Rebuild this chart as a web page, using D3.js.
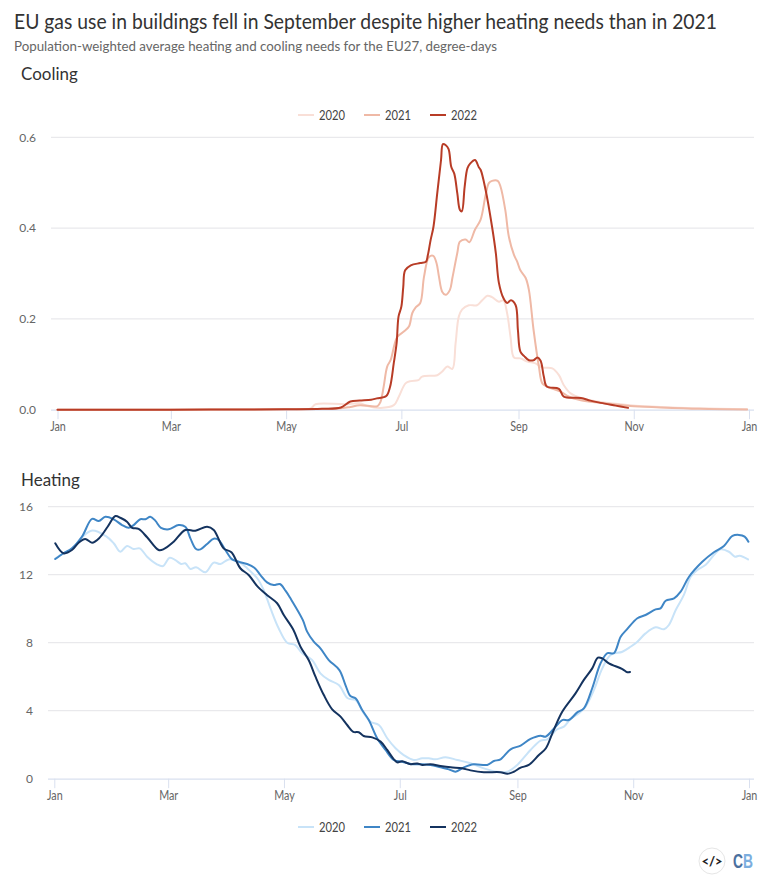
<!DOCTYPE html>
<html>
<head>
<meta charset="utf-8">
<script src="https://cdnjs.cloudflare.com/ajax/libs/d3/7.8.5/d3.min.js"></script>
<style>
body { margin: 0; background: #fff; }
svg { display: block; font-family: Lato, sans-serif; }
</style>
</head>
<body>
<svg id="graphique" width="780" height="891"></svg>
<script>
// values, day of year (leap year) and degree-days
var years = ["2020", "2021", "2022"];
var monthDays = [0, 60, 121, 182, 244, 305, 366];
var monthLabels = ["Jan", "Mar", "May", "Jul", "Sep", "Nov", "Jan"];
var coolingTicks = [0, 0.2, 0.4, 0.6];
var heatingTicks = [0, 4, 8, 12, 16];

var cooling2020Days = [0, 60, 120, 134, 136.6, 152, 160, 164, 171, 178, 180.7, 184.2, 187, 191, 193, 201, 203.6, 206.3, 209, 210.7, 212.4, 214.2, 217.7, 222, 224.8, 227.5, 230, 233.6, 236, 238, 239.8, 241.6, 245, 248.7, 253, 256.6, 261.9, 265.4, 268, 271.6, 277, 287.5, 303, 319, 340, 365];
var cooling2020Values = [0, 0, 0.001, 0.003, 0.012, 0.012, 0.014, 0.008, 0.004, 0.01, 0.029, 0.058, 0.063, 0.065, 0.073, 0.076, 0.084, 0.095, 0.09, 0.146, 0.205, 0.221, 0.23, 0.23, 0.241, 0.251, 0.248, 0.238, 0.241, 0.212, 0.16, 0.115, 0.113, 0.106, 0.102, 0.093, 0.091, 0.076, 0.054, 0.036, 0.026, 0.017, 0.01, 0.006, 0.003, 0.001];

var cooling2021Days = [0, 60, 120, 150, 155, 160, 169.4, 171, 172.6, 174.5, 176.3, 179.8, 183.3, 186, 187.8, 189.5, 192, 194, 196.6, 198.9, 200.6, 201.9, 203.6, 205.4, 207.7, 209, 211.6, 213, 216, 218, 221, 223.9, 226.6, 228.3, 230, 233, 234.5, 237, 238.9, 241.6, 243.3, 245, 247.8, 249.5, 252, 254.8, 256.6, 259, 266.3, 270.5, 277, 287.5, 303, 319, 340, 365];
var cooling2021Values = [0, 0, 0.001, 0.003, 0.006, 0.01, 0.008, 0.018, 0.05, 0.095, 0.109, 0.16, 0.172, 0.183, 0.213, 0.225, 0.235, 0.293, 0.336, 0.339, 0.323, 0.293, 0.26, 0.253, 0.264, 0.29, 0.345, 0.37, 0.375, 0.369, 0.397, 0.418, 0.473, 0.499, 0.504, 0.504, 0.491, 0.44, 0.381, 0.341, 0.326, 0.307, 0.29, 0.264, 0.175, 0.095, 0.058, 0.051, 0.04, 0.029, 0.021, 0.015, 0.008, 0.005, 0.002, 0.0005];

var cooling2022Days = [0, 60, 120, 140, 150, 155, 160, 166, 169, 174, 176, 178, 179.5, 180.5, 182, 183, 184, 187, 192, 195, 196, 197.5, 199, 201, 203, 204, 205.4, 207, 208.4, 210, 211.6, 213, 214, 215.5, 217, 218.6, 221, 223, 224, 226.6, 230, 232, 233.6, 236, 238, 240, 242.5, 243.7, 245, 247, 249.5, 252, 254, 255.7, 257.4, 259, 265.4, 268, 277, 282, 287.5, 295.4, 302];
var cooling2022Values = [0, 0, 0.001, 0.002, 0.005, 0.018, 0.02, 0.022, 0.025, 0.03, 0.05, 0.103, 0.147, 0.205, 0.227, 0.27, 0.307, 0.318, 0.323, 0.326, 0.34, 0.374, 0.403, 0.477, 0.55, 0.585, 0.583, 0.574, 0.535, 0.52, 0.477, 0.44, 0.437, 0.491, 0.532, 0.543, 0.55, 0.534, 0.528, 0.484, 0.403, 0.345, 0.28, 0.246, 0.235, 0.241, 0.23, 0.175, 0.128, 0.118, 0.109, 0.109, 0.115, 0.108, 0.073, 0.051, 0.046, 0.029, 0.026, 0.02, 0.015, 0.009, 0.004];

var heating2020Days = [0.5, 4.9, 9.3, 14.6, 20, 27, 31.3, 34.8, 38.3, 41.8, 45, 48.9, 54.1, 57.3, 60.8, 63.8, 66.8, 69, 71.7, 74.7, 79.6, 84, 87.5, 91.9, 97.2, 101.6, 106.9, 110.3, 113.9, 118.2, 122.7, 127, 130.6, 135.8, 140.2, 144.6, 149.9, 154.6, 158.7, 163, 166.6, 171, 175.4, 179.8, 184.1, 189.4, 193.8, 197.3, 200.8, 206.1, 212.3, 219.3, 226.3, 233.3, 238.7, 243.9, 250.9, 256.2, 259.7, 265, 268.5, 272, 276.4, 279.9, 284.3, 288.7, 293.1, 299.3, 303.6, 307.2, 311.5, 316.8, 321.2, 323.8, 327.4, 331.7, 335.3, 338.8, 343.2, 347.5, 351, 355.4, 358.6, 361, 365.5];
var heating2020Values = [12.95, 13.25, 13.5, 14.2, 14.6, 14.28, 13.85, 13.35, 13.69, 13.51, 13.55, 13.06, 12.61, 12.51, 13, 12.86, 12.63, 12.67, 12.34, 12.44, 12.14, 12.71, 12.63, 12.9, 12.76, 12.38, 11.79, 11.1, 10.02, 8.85, 8, 7.86, 7.38, 6.98, 6.2, 5.81, 5.51, 4.73, 4.63, 3.85, 3.35, 3.16, 2.38, 1.79, 1.39, 1.1, 1.2, 1.2, 1.14, 1.26, 1.1, 0.91, 0.61, 0.41, 0.41, 0.81, 1.69, 2.24, 2.32, 2.91, 3.06, 3.51, 3.85, 4.24, 5.22, 6.49, 7.28, 7.47, 7.76, 8.06, 8.55, 8.91, 8.79, 9.04, 9.92, 10.81, 11.88, 12.28, 12.58, 13.16, 13.49, 13.35, 13.06, 13.12, 12.9];

var heating2021Days = [0.5, 4.9, 9.3, 14.6, 19.9, 23.4, 26.9, 31.3, 35.7, 39.2, 41.8, 45.3, 48, 50.6, 53.2, 56.2, 60.3, 65.5, 69, 71.7, 74.7, 77, 80.5, 84, 86.6, 90.1, 93.7, 97.2, 101.6, 105.4, 108.6, 112.1, 115.6, 118.8, 121.8, 124.4, 130.9, 133.2, 136.7, 140.2, 144.6, 150.2, 153.4, 156, 158.7, 162.2, 165.7, 170.1, 174.5, 178.9, 183.3, 188.6, 192.9, 198.2, 203.5, 207.9, 211.4, 215.8, 221, 228.1, 231.6, 235.1, 240.4, 245.7, 250.9, 256.2, 258.8, 264.1, 267.6, 271.1, 275.5, 279, 283.4, 287.8, 291.4, 294.8, 298.4, 301.9, 307.2, 311.5, 316.8, 319.4, 322.1, 326.5, 330, 334.4, 341.4, 347.5, 352.8, 357.3, 360.7, 363.7, 365.7];
var heating2021Values = [12.92, 13.26, 13.55, 14.24, 15.28, 15.16, 15.41, 15.26, 14.92, 14.76, 14.92, 15.26, 15.26, 15.41, 15.18, 14.76, 14.67, 14.92, 14.82, 14.14, 13.51, 13.49, 13.81, 14.12, 14.04, 13.45, 12.9, 12.76, 12.63, 12.41, 11.98, 11.55, 11.39, 11.45, 11.06, 10.61, 9.34, 8.65, 8.06, 7.67, 6.98, 6.39, 5.51, 4.86, 4.73, 4.04, 3.45, 2.38, 1.69, 1.1, 1, 0.85, 0.85, 0.81, 0.67, 0.55, 0.41, 0.67, 0.85, 0.81, 1.04, 1.14, 1.73, 1.95, 2.34, 2.53, 2.47, 3.06, 3.45, 3.45, 3.9, 4.14, 5.32, 6.79, 7.38, 7.38, 8.35, 8.81, 9.44, 9.63, 9.96, 10.02, 10.47, 10.61, 11, 11.88, 12.76, 13.32, 13.69, 14.28, 14.34, 14.24, 13.94];

var heating2022Days = [0.5, 4.9, 9.3, 12.8, 16.3, 19.9, 23.9, 28.1, 32.2, 34.8, 38.3, 41, 44.4, 48.9, 55, 57.6, 62.9, 69, 74.3, 80.5, 84, 89.2, 93.3, 98, 102.4, 106.9, 112, 117.4, 120.9, 126, 129.7, 134, 137.6, 142, 146.4, 150.8, 154.3, 157.5, 160.4, 163, 167.5, 171.9, 175.4, 178.9, 180.7, 183.3, 187.7, 191.2, 193.8, 198.2, 203.5, 208.8, 214.9, 219.3, 226.3, 235, 238.7, 242.1, 245.7, 250, 255.3, 259, 262.4, 267.6, 274.6, 279, 283.4, 286.4, 288.7, 292.2, 299.3, 301.9, 303.3];
var heating2022Values = [13.85, 13.26, 13.45, 13.88, 14.1, 13.88, 14.18, 14.82, 15.45, 15.35, 15.12, 14.76, 14.69, 14.2, 13.45, 13.5, 13.94, 14.63, 14.59, 14.82, 14.63, 13.55, 13.32, 12.38, 11.98, 11.33, 10.81, 10.32, 9.63, 8.75, 7.76, 6.98, 6, 4.92, 4.08, 3.65, 3.16, 2.76, 2.73, 2.51, 2.43, 2.18, 1.69, 1.14, 0.96, 1.02, 0.85, 0.9, 0.81, 0.85, 0.75, 0.67, 0.61, 0.49, 0.38, 0.38, 0.29, 0.41, 0.65, 0.81, 1.39, 1.79, 2.67, 3.94, 5.02, 5.81, 6.49, 7.12, 7.08, 6.79, 6.45, 6.26, 6.28];

var coolingColors = ["#f9dfd7", "#efb9a6", "#b83c26"];
var heatingColors = ["#c8e3f8", "#3f86c6", "#14335f"];

var graphique = d3.select("#graphique");

function zip(days, values){
	return days.map(function(d, i){
		return {day: d, value: values[i]};
	});
}

// the original font is narrower than Lato, squeeze to its width
function squeeze(sel, factor){
	sel.each(function(){
		this.setAttribute("textLength", this.getComputedTextLength() * factor);
		this.setAttribute("lengthAdjust", "spacingAndGlyphs");
	});
}

function drawPanel(panel){
	var xScale = d3.scaleLinear().domain([0, 366]).range(panel.xRange);
	var yScale = d3.scaleLinear().domain(panel.yDomain).range(panel.yRange);

	//// grid + y labels
	var yAxis = d3.axisLeft(yScale)
		.tickValues(panel.yTicks)
		.tickSize(0)
		.tickPadding(0)
		.tickFormat(d3.format(panel.yFormat));
	var gy = graphique.append("g").attr("transform", "translate(" + panel.labelRight + ",0)").call(yAxis);
	gy.select(".domain").remove();
	gy.selectAll("text")
		.attr("font-family", "Lato, sans-serif")
		.attr("font-size", 12)
		.attr("fill", "#666");

	panel.yTicks.forEach(function(t){
		if(t == 0) return;
		graphique.append("line")
			.attr("x1", panel.gridStart).attr("x2", 754)
			.attr("y1", yScale(t)).attr("y2", yScale(t))
			.attr("stroke", "#e9e9ec")
			.attr("stroke-width", 1.2);
	});

	//// x axis
	var xAxis = d3.axisBottom(xScale)
		.tickValues(monthDays)
		.tickFormat(function(d, i){ return monthLabels[i]; })
		.tickSize(9.5)
		.tickPadding(3);
	var gx = graphique.append("g")
		.attr("transform", "translate(0," + yScale(0) + ")")
		.call(xAxis);
	gx.select(".domain")
		.attr("d", "M" + panel.gridStart + ",0.5H754")
		.attr("stroke", "#d9e0ef")
		.attr("stroke-width", 1.2);
	gx.selectAll("line").attr("stroke", "#d9e0ef");
	gx.selectAll("text")
		.attr("font-family", "Lato, sans-serif")
		.attr("font-size", 12.5)
		.attr("fill", "#666")
		.call(squeeze, 0.86);

	//// courbes
	var line = d3.line()
		.x(function(d){ return xScale(d.day); })
		.y(function(d){ return yScale(d.value); })
		.curve(d3.curveCatmullRom.alpha(0.5));

	panel.series.forEach(function(s, i){
		graphique.append("path")
			.attr("d", line(s))
			.attr("fill", "none")
			.attr("stroke", panel.colors[i])
			.attr("stroke-width", 2)
			.attr("stroke-linejoin", "round")
			.attr("stroke-linecap", "round");
	});

	//// legende
	var lineStart = [298, 364, 430];
	years.forEach(function(y, i){
		graphique.append("line")
			.attr("x1", lineStart[i]).attr("x2", lineStart[i] + 16)
			.attr("y1", panel.legendY).attr("y2", panel.legendY)
			.attr("stroke", panel.colors[i])
			.attr("stroke-width", 2);
		graphique.append("text")
			.attr("x", lineStart[i] + 21)
			.attr("y", panel.legendY + 4.5)
			.attr("font-size", 12.5)
			.attr("fill", "#444")
			.text(y)
			.attr("textLength", 26)
			.attr("lengthAdjust", "spacingAndGlyphs");
	});

	graphique.append("text")
		.attr("x", 21)
		.attr("y", panel.titleY)
		.attr("font-size", 17.5)
		.attr("fill", "#333")
		.text(panel.title)
		.call(squeeze, 0.97);
}

graphique.append("text")
	.attr("x", 14).attr("y", 29)
	.attr("font-size", 20.5)
	.attr("fill", "#333")
	.text("EU gas use in buildings fell in September despite higher heating needs than in 2021")
	.attr("textLength", 703)
	.attr("lengthAdjust", "spacingAndGlyphs");

graphique.append("text")
	.attr("x", 14).attr("y", 51)
	.attr("font-size", 14)
	.attr("fill", "#666")
	.text("Population-weighted average heating and cooling needs for the EU27, degree-days")
	.attr("textLength", 483)
	.attr("lengthAdjust", "spacingAndGlyphs");

drawPanel({
	title: "Cooling",
	titleY: 79.5,
	legendY: 115,
	xRange: [57.5, 749],
	gridStart: 51,
	labelRight: 36,
	yDomain: [0, 0.6],
	yRange: [409.7, 137.3],
	yFormat: ".1f",
	yTicks: coolingTicks,
	colors: coolingColors,
	series: [zip(cooling2020Days, cooling2020Values), zip(cooling2021Days, cooling2021Values), zip(cooling2022Days, cooling2022Values)]
});

drawPanel({
	title: "Heating",
	titleY: 486,
	legendY: 827,
	xRange: [54.3, 749],
	gridStart: 48,
	labelRight: 33,
	yDomain: [0, 16],
	yRange: [778.7, 506.7],
	yFormat: "d",
	yTicks: heatingTicks,
	colors: heatingColors,
	series: [zip(heating2020Days, heating2020Values), zip(heating2021Days, heating2021Values), zip(heating2022Days, heating2022Values)]
});

//// logo
graphique.append("circle")
	.attr("cx", 712).attr("cy", 861).attr("r", 13)
	.attr("fill", "#fff").attr("stroke", "#e6e6e6");
graphique.append("text")
	.attr("x", 712).attr("y", 865.5)
	.attr("text-anchor", "middle")
	.attr("font-size", 13).attr("font-weight", 900)
	.attr("fill", "#222")
	.text("</>");

// one text, two colours: hard stop halfway between the letters
var cbFill = graphique.append("defs").append("linearGradient")
	.attr("id", "cbFill")
	.attr("gradientUnits", "userSpaceOnUse")
	.attr("x1", 733).attr("x2", 753).attr("y1", 0).attr("y2", 0);
cbFill.append("stop").attr("offset", "50%").attr("stop-color", "#4a6f9e");
cbFill.append("stop").attr("offset", "50%").attr("stop-color", "#7badde");

graphique.append("text")
	.attr("x", 733).attr("y", 868)
	.attr("font-family", "'Liberation Sans', sans-serif")
	.attr("font-size", 21).attr("font-weight", 700)
	.attr("fill", "url(#cbFill)")
	.text("CB")
	.attr("textLength", 20)
	.attr("lengthAdjust", "spacingAndGlyphs");
</script>
</body>
</html>
